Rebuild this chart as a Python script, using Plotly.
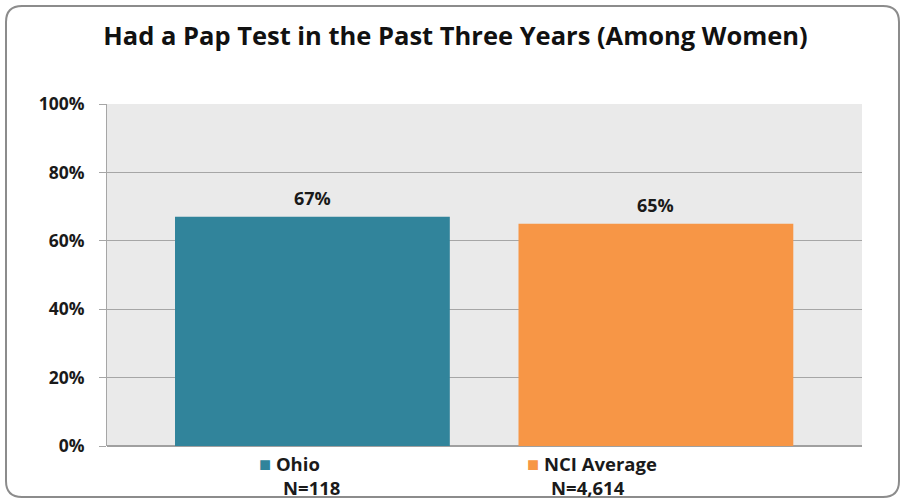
import plotly.graph_objects as go

categories = ["Ohio", "NCI Average"]
sample_sizes = ["N=118", "N=4,614"]
values = [67, 65]
colors = ["#31849B", "#F79646"]
title = "Had a Pap Test in the Past Three Years (Among Women)"
y_ticks = [0, 20, 40, 60, 80, 100]
y_ticklabels = [f"{v}%" for v in y_ticks]

W, H = 902, 501
L, R, T, B = 107, 40, 104, 55
pw, ph = W - L - R, H - T - B

def px_x(p):
    return (p - L) / pw

def px_y(p):
    return (H - B - p) / ph

FONT = "Open Sans"
TXT = "#1a1a1a"

fig = go.Figure()
fig.add_trace(go.Bar(
    x=categories, y=values, marker=dict(color=colors, line=dict(width=0)),
    width=0.8, hoverinfo="skip",
))

# value labels
for c, v in zip(categories, values):
    fig.add_annotation(x=c, y=v, xref="x", yref="y", yanchor="bottom", yshift=5,
                       text=f"<b>{v}%</b>", showarrow=False,
                       font=dict(family=FONT, size=18, color=TXT))

# category labels with colored markers (two lines, left aligned)
label_shift = [-55, -131]
indent = "\u00a0" * 5
for i, (c, n, col) in enumerate(zip(categories, sample_sizes, colors)):
    fig.add_annotation(x=c, y=0, xref="x", yref="y", xanchor="left", yanchor="top",
                       yshift=-2, xshift=label_shift[i], align="left",
                       text=(f"<span style='color:{col};font-size:20px'>■</span><b> {c}</b>"
                             f"<br><b>{indent}{n}</b>"),
                       showarrow=False, font=dict(family=FONT, size=18.5, color=TXT))

# rounded border
x0, x1, y0, y1 = px_x(6), px_x(899), px_y(6), px_y(497)
rx = 16 / pw
ry = 16 / ph
path = (f"M {x0+rx},{y0} L {x1-rx},{y0} Q {x1},{y0} {x1},{y0-ry} "
        f"L {x1},{y1+ry} Q {x1},{y1} {x1-rx},{y1} L {x0+rx},{y1} "
        f"Q {x0},{y1} {x0},{y1+ry} L {x0},{y0-ry} Q {x0},{y0} {x0+rx},{y0} Z")
fig.add_shape(type="path", path=path, xref="paper", yref="paper",
              line=dict(color="#8C8C8C", width=2), layer="below")

fig.update_layout(
    width=W, height=H,
    margin=dict(l=L, r=R, t=T, b=B),
    paper_bgcolor="white", plot_bgcolor="#EAEAEA",
    showlegend=False,
    title=dict(text=f"<b>{title}</b>", x=0.505, xanchor="center", y=0.928, yanchor="middle",
               font=dict(family=FONT, size=25.5, color="#111111")),
)
fig.update_xaxes(range=[-0.598, 1.6], showticklabels=False, showgrid=False,
                 showline=False, zeroline=False, ticks="")
fig.update_yaxes(range=[0, 100], tickvals=y_ticks, ticktext=[f"<b>{t}</b>" for t in y_ticklabels],
                 tickfont=dict(family=FONT, size=17.5, color=TXT),
                 showgrid=True, gridcolor="#A6A6A6", gridwidth=1,
                 ticks="outside", ticklen=7, tickcolor="#A6A6A6", ticklabelstandoff=11,
                 showline=True, linecolor="#A6A6A6", linewidth=1,
                 zeroline=True, zerolinecolor="#A0A0A0", zerolinewidth=2)

fig.write_html("out.html", config={"displayModeBar": False},
               post_script="document.body.style.margin='0';document.body.style.overflow='hidden';")
